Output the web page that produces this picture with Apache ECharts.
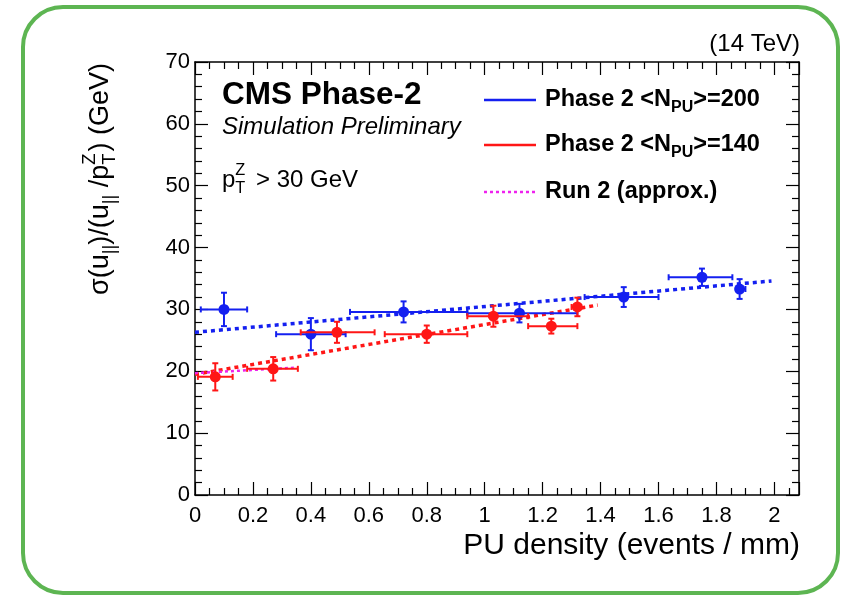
<!DOCTYPE html>
<html>
<head>
<meta charset="utf-8">
<script src="https://cdn.jsdelivr.net/npm/echarts@6/dist/echarts.min.js"></script>
<style>
html,body{margin:0;padding:0;background:#fff;}
#main{width:843px;height:599px;}
</style>
</head>
<body>
<div id="main"></div>
<script>
// ---- data ----
const blueX    = [0.10, 0.40, 0.72, 1.12, 1.48, 1.75, 1.88];
const blueY    = [30.0, 26.0, 29.6, 29.4, 32.0, 35.2, 33.3];
const blueXLo  = [0.02, 0.28, 0.535, 0.94, 1.345, 1.635, 1.87];
const blueXHi  = [0.18, 0.52, 0.94, 1.32, 1.60, 1.855, 1.90];
const blueYErr = [2.7, 2.6, 1.7, 1.5, 1.6, 1.4, 1.6];

const redX    = [0.07, 0.27, 0.49, 0.80, 1.03, 1.23, 1.32];
const redY    = [19.1, 20.4, 26.3, 26.0, 28.9, 27.3, 30.4];
const redXLo  = [0.01, 0.18, 0.365, 0.655, 0.94, 1.15, 1.30];
const redXHi  = [0.13, 0.355, 0.62, 0.94, 1.15, 1.32, 1.33];
const redYErr = [2.2, 1.9, 1.7, 1.4, 1.7, 1.2, 1.5];

const blueFitX = [0, 1.99];
const blueFitY = [26.3, 34.6];
const redFitX  = [0, 1.39];
const redFitY  = [19.5, 30.7];
const run2X    = [0, 0.35];
const run2Y    = [19.7, 20.6];

const xTicks = [0, 0.2, 0.4, 0.6, 0.8, 1, 1.2, 1.4, 1.6, 1.8, 2];
const yTicks = [0, 10, 20, 30, 40, 50, 60, 70];

// ---- styling ----
const FONT = '"Liberation Sans", Arial, Helvetica, sans-serif';
const BLUE = '#1420f0';
const RED = '#ff1616';
const MAG = '#ee22ee';

const ctx = document.createElement('canvas').getContext('2d');
function tw(t, size, weight, style) {
  ctx.font = (style || 'normal') + ' ' + (weight || 'normal') + ' ' + size + 'px ' + FONT;
  return ctx.measureText(t).width;
}
function txt(t, x, y, size, weight, style, color) {
  return {type: 'text', x: x, y: y, silent: true,
    style: {text: t, fontSize: size, fontFamily: FONT, fontWeight: weight || 'normal',
      fontStyle: style || 'normal', fill: color || '#000', align: 'left', verticalAlign: 'middle'}};
}
function compose(segs, base, weight, style, color) {
  let x = 0; const out = [];
  segs.forEach(function (sg) {
    if (sg.sup !== undefined || sg.sub !== undefined) {
      const fs = base * 0.68; let w = 0;
      if (sg.sup) { out.push(txt(sg.sup, x, -base * 0.40, fs, weight, style, color)); w = Math.max(w, tw(sg.sup, fs, weight, style)); }
      if (sg.sub) { out.push(txt(sg.sub, x, base * 0.34, fs, weight, style, color)); w = Math.max(w, tw(sg.sub, fs, weight, style)); }
      x += w + (sg.pad || 0);
    } else {
      out.push(txt(sg.t, x, 0, base, weight, style, color));
      x += tw(sg.t, base, weight, style);
    }
  });
  return {children: out, width: x};
}
function shift(children, dx) {
  children.forEach(function (c) { c.x += dx; });
  return children;
}

function errData(xs, ys, lo, hi, ey) {
  return xs.map(function (x, i) { return [x, ys[i], lo[i], hi[i], ey[i]]; });
}
function errRender(color) {
  return function (params, api) {
    const x = api.value(0), y = api.value(1), lo = api.value(2), hi = api.value(3), e = api.value(4);
    const c = api.coord([x, y]);
    const l = api.coord([lo, y]);
    const r = api.coord([hi, y]);
    const t = api.coord([x, y + e]);
    const b = api.coord([x, y - e]);
    const ls = {stroke: color, lineWidth: 2};
    const cap = 3;
    return {type: 'group', children: [
      {type: 'line', shape: {x1: l[0], y1: l[1], x2: r[0], y2: r[1]}, style: ls},
      {type: 'line', shape: {x1: l[0], y1: l[1] - cap, x2: l[0], y2: l[1] + cap}, style: ls},
      {type: 'line', shape: {x1: r[0], y1: r[1] - cap, x2: r[0], y2: r[1] + cap}, style: ls},
      {type: 'line', shape: {x1: t[0], y1: t[1], x2: b[0], y2: b[1]}, style: ls},
      {type: 'line', shape: {x1: t[0] - cap, y1: t[1], x2: t[0] + cap, y2: t[1]}, style: ls},
      {type: 'line', shape: {x1: b[0] - cap, y1: b[1], x2: b[0] + cap, y2: b[1]}, style: ls},
      {type: 'circle', shape: {cx: c[0], cy: c[1], r: 5.5}, style: {fill: color}}
    ]};
  };
}
function pairs(xs, ys) { return xs.map(function (x, i) { return [x, ys[i]]; }); }

const chart = echarts.init(document.getElementById('main'), null, {renderer: 'canvas'});

const GL = 195, GT = 62, GR = 799, GB = 495;
const XMAX = 2.085;

const axisCommon = {
  axisLine: {show: true, onZero: false, lineStyle: {color: '#000', width: 1.5}},
  splitLine: {show: false},
  axisTick: {show: true, inside: true, length: 13, lineStyle: {color: '#000', width: 1.2}},
  minorTick: {show: true, length: 7, lineStyle: {color: '#000', width: 1.2}},
  minorSplitLine: {show: false}
};

// ---- text decorations ----
const graphics = [];
graphics.push({type: 'rect', silent: true, shape: {x: 23, y: 7, width: 815, height: 586, r: 40},
  style: {fill: 'none', stroke: '#5db552', lineWidth: 4}});

graphics.push(txt('CMS Phase-2', 222, 95, 31.5, 'bold'));
graphics.push(txt('Simulation Preliminary', 222, 127, 24, 'normal', 'italic'));
const ptz = compose([{t: 'p'}, {sup: 'Z', sub: 'T', pad: 4}, {t: ' > 30 GeV'}], 24);
graphics.push({type: 'group', x: 222, y: 180, children: ptz.children});

const tevW = tw('(14 TeV)', 24);
graphics.push(txt('(14 TeV)', 800 - tevW, 44, 24));

// legend
const legRows = [
  {y: 100, color: BLUE, dash: null, segs: [{t: 'Phase 2 <N'}, {sub: 'PU'}, {t: '>=200'}]},
  {y: 145, color: RED, dash: null, segs: [{t: 'Phase 2 <N'}, {sub: 'PU'}, {t: '>=140'}]},
  {y: 192, color: MAG, dash: [3, 3], segs: [{t: 'Run 2 (approx.)'}]}
];
legRows.forEach(function (row) {
  graphics.push({type: 'line', silent: true, shape: {x1: 484, y1: row.y, x2: 536, y2: row.y},
    style: {stroke: row.color, lineWidth: 2.5, lineDash: row.dash || null}});
  const c = compose(row.segs, 23.5, 'bold');
  graphics.push({type: 'group', x: 545, y: row.y, children: c.children});
});

// y axis title (rotated)
const ytSegs = [{t: 'σ(u'}, {sub: '||'}, {t: ')/(u'}, {sub: '||'}, {t: ' /p'}, {sup: 'Z', sub: 'T', pad: 2}, {t: ') (GeV)'}];
const yt = compose(ytSegs, 27);
graphics.push({type: 'group', x: 101, y: 63, rotation: Math.PI / 2, children: shift(yt.children, -yt.width)});

// x axis title
const xtW = tw('PU density (events / mm)', 30);
graphics.push(txt('PU density (events / mm)', 800 - xtW, 546, 30));

const option = {
  backgroundColor: '#ffffff',
  animation: false,
  grid: {left: GL, top: GT, width: GR - GL, height: GB - GT, containLabel: false},
  xAxis: [
    Object.assign({}, axisCommon, {
      type: 'value', position: 'bottom', min: 0, max: XMAX, interval: 0.2,
      minorTick: Object.assign({}, axisCommon.minorTick, {splitNumber: 4}),
      axisLabel: {show: true, color: '#000', fontSize: 22, fontFamily: FONT, margin: 10,
        showMaxLabel: false,
        formatter: function (v) {
          const m = xTicks.find(function (t) { return Math.abs(t - v) < 1e-6; });
          return m === undefined ? '' : String(m);
        }}
    }),
    Object.assign({}, axisCommon, {
      type: 'value', position: 'top', min: 0, max: XMAX, interval: 0.2,
      minorTick: Object.assign({}, axisCommon.minorTick, {splitNumber: 4}),
      axisLabel: {show: false}
    })
  ],
  yAxis: [
    Object.assign({}, axisCommon, {
      type: 'value', position: 'left', min: 0, max: 70, interval: 10,
      minorTick: Object.assign({}, axisCommon.minorTick, {splitNumber: 5}),
      axisLabel: {show: true, color: '#000', fontSize: 22, fontFamily: FONT, margin: 5,
        formatter: function (v) {
          const m = yTicks.find(function (t) { return Math.abs(t - v) < 1e-6; });
          return m === undefined ? '' : String(m);
        }}
    }),
    Object.assign({}, axisCommon, {
      type: 'value', position: 'right', min: 0, max: 70, interval: 10,
      minorTick: Object.assign({}, axisCommon.minorTick, {splitNumber: 5}),
      axisLabel: {show: false}
    })
  ],
  series: [
    {type: 'line', name: 'blueFit', data: pairs(blueFitX, blueFitY), symbol: 'none', z: 3,
      lineStyle: {color: BLUE, width: 3.5, type: [4, 4]}},
    {type: 'line', name: 'redFit', data: pairs(redFitX, redFitY), symbol: 'none', z: 3,
      lineStyle: {color: RED, width: 3.5, type: [4, 4]}},
    {type: 'line', name: 'run2', data: pairs(run2X, run2Y), symbol: 'none', z: 3,
      lineStyle: {color: MAG, width: 2.5, type: [3, 3]}},
    {type: 'custom', name: 'Phase 2 200', renderItem: errRender(BLUE), z: 4,
      data: errData(blueX, blueY, blueXLo, blueXHi, blueYErr), encode: {x: 0, y: 1}},
    {type: 'custom', name: 'Phase 2 140', renderItem: errRender(RED), z: 5,
      data: errData(redX, redY, redXLo, redXHi, redYErr), encode: {x: 0, y: 1}}
  ],
  graphic: graphics
};
chart.setOption(option);
</script>
</body>
</html>
